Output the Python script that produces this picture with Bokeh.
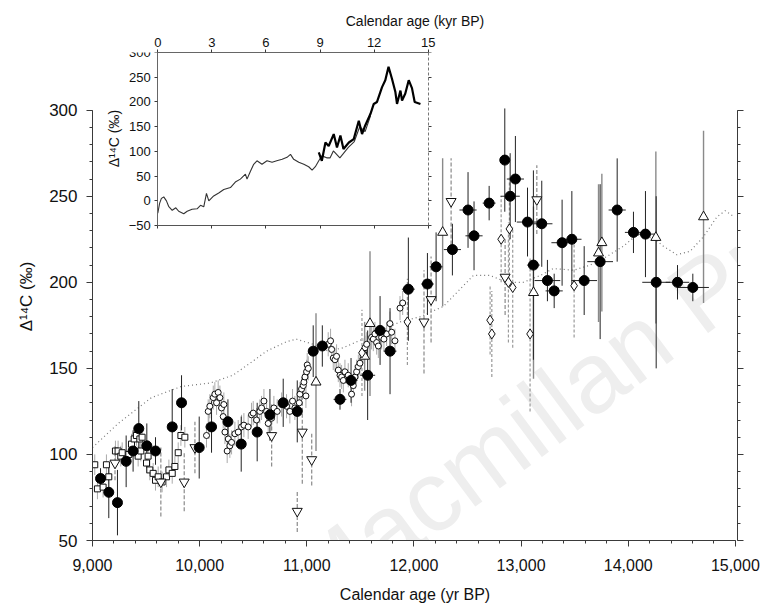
import math
from bokeh.plotting import figure
from bokeh.models import (Range1d, LinearAxis, FixedTicker, NumeralTickFormatter,
                          Label, CustomJSTickFormatter, Title)
from bokeh.embed import file_html
from bokeh.resources import INLINE

FONT = "Liberation Sans"

# ---------------- data ----------------
# dotted reference curve
ref_age = [9000, 9240, 9550, 9830, 10100, 10310, 10470, 10625, 10810, 10900,
           11060, 11200, 11340, 11560, 11870, 12060, 12275, 12555, 12710, 12870,
           13020, 13180, 13300, 13490, 13645, 13800, 13956, 14080, 14236, 14327,
           14454, 14578, 14703, 14828, 14906, 14990]
ref_d14c = [104, 118, 133, 139.5, 141.5, 146, 153, 160, 165.5, 167,
            164, 160, 162, 168, 177, 180, 186, 204, 204, 200,
            200, 204, 208, 207, 210, 215, 221, 227.5, 225.6, 221,
            216, 218, 226.5, 238, 241.6, 238]

# filled circles
fc_age = [9075, 9152, 9233, 9314, 9379, 9432, 9507, 9588, 9744, 9831,
          9996, 10111, 10264, 10388, 10537, 10656, 10780, 10911, 11060, 11145,
          11310, 11413, 11568, 11684, 11777, 11948, 12126, 12207, 12359, 12505,
          12561, 12702, 12848, 12898, 12947, 13060, 13115, 13193, 13246, 13309,
          13383, 13474, 13589, 13738, 13897, 14049, 14161, 14261, 14460, 14603]
fc_d14c = [86, 78, 72, 96, 102, 115, 105, 102, 116, 130,
           104, 116, 119, 106, 113, 123, 130, 125, 160, 163,
           132, 143, 146, 172, 160, 196, 199, 209, 219, 242,
           227, 246, 271, 250, 260, 235, 210, 234, 201, 195,
           223, 225, 201, 212, 242, 229, 228, 200, 200, 197]
fc_err = [6, 15, 19, 15, 12, 16, 13, 8, 22, 16,
          18, 15, 13, 16, 17, 15, 14, 18, 15, 12,
          6, 13, 26, 20, 25, 30, 18, 20, 15, 22,
          20, 10, 30, 25, 25, 20, 55, 25, 12, 10,
          25, 28, 20, 45, 30, 12, 25, 50, 10, 8]
fc_xerr = [20, 15, 15, 20, 20, 20, 20, 25, 20, 25,
           25, 30, 30, 35, 35, 35, 35, 40, 30, 40,
           60, 60, 70, 60, 60, 60, 60, 60, 80, 80,
           80, 60, 40, 90, 80, 100, 60, 100, 120, 80,
           100, 90, 120, 120, 80, 80, 90, 130, 110, 150]

# open circles (tree-ring like series)
oc_age = [10064, 10080, 10086, 10095, 10127, 10142, 10158, 10173, 10189, 10204,
          10220, 10226, 10236, 10257, 10267, 10282, 10298, 10329, 10360, 10391,
          10413, 10453, 10484, 10500, 10531, 10562, 10578, 10600, 10625, 10640,
          10671, 10693, 10724, 10765, 10811, 10842, 10867, 10889, 10930, 10936,
          10951, 10967, 10973, 10983, 10992, 10998, 11004, 11014, 11200, 11222,
          11232, 11247, 11263, 11278, 11294, 11310, 11325, 11341, 11356, 11387,
          11418, 11434, 11450, 11465, 11481, 11496, 11534, 11543, 11559, 11605,
          11621, 11636, 11652, 11668, 11699, 11720, 11745, 11776, 11792, 11823,
          11870, 11895]
oc_d14c = [111, 125, 116, 128, 133, 135, 130, 136, 133, 127,
           122, 129, 113, 102, 109, 105, 107, 112, 113, 116,
           117, 116, 123, 124, 120, 125, 127, 131, 125, 118,
           121, 127, 125, 129, 128, 125, 131, 127, 130, 135,
           138, 140, 142, 145, 134, 148, 152, 150, 164, 166,
           161, 156, 155, 157, 149, 146, 145, 143, 148, 146,
           135, 140, 145, 148, 151, 153, 160, 162, 164, 168,
           167, 170, 165, 163, 168, 167, 170, 176, 171, 166,
           185, 188]

# open squares
sq_age = [9021, 9046, 9099, 9130, 9152, 9214, 9239, 9264, 9277, 9339,
          9364, 9389, 9410, 9426, 9442, 9451, 9463, 9504, 9519, 9535,
          9566, 9588, 9613, 9650, 9691, 9713, 9744, 9769, 9800, 9825, 9862]
sq_d14c = [94, 80, 81, 94, 87, 102, 102, 99, 101, 100,
           106, 109, 111, 99, 109, 102, 110, 95, 99, 91,
           89, 85, 87, 84, 87, 91, 89, 93, 101, 111, 110]

# open up-triangles
tu_age = [11086, 11540, 11590, 12268, 13116, 13723, 13754, 14258, 14703]
tu_d14c = [142, 157, 176, 229, 194, 217, 223, 226, 238]
tu_err = [40, 20, 42, 43, 50, 40, 40, 50, 50]

# open down-triangles
td_age = [9210, 9638, 9856, 9956, 10672, 10911, 10958, 11046, 12094, 12160,
          12347, 12851, 13147]
td_d14c = [95, 84, 84, 104, 111, 67, 113, 97, 177, 190, 247, 203, 248]
td_err = [10, 20, 17, 15, 18, 12, 30, 15, 30, 25, 25, 22, 20]

# open diamonds
dm_age = [11515, 11939, 12711, 12727, 12814, 12882, 12891, 12922, 13084, 13495]
dm_d14c = [159, 177, 178, 170, 225, 200, 231, 197, 170, 198]
dm_err = [25, 25, 20, 25, 25, 35, 30, 35, 45, 30]

# inset curves (kyr BP, permil)
in_thin_age = [0, 0.1, 0.2, 0.33, 0.48, 0.6, 0.8, 1.0, 1.16, 1.44,
               1.63, 1.9, 2.18, 2.37, 2.55, 2.7, 2.83, 3.1, 3.38, 3.66,
               4.03, 4.3, 4.58, 4.86, 4.95, 5.14, 5.32, 5.5, 5.78, 6.06,
               6.34, 6.6, 6.9, 7.17, 7.36, 7.54, 7.82, 8.1, 8.37, 8.56,
               8.74, 8.93, 9.1, 9.37, 9.56, 9.74, 10.1, 10.57, 10.9, 11.2,
               11.5, 11.8]
in_thin_d14c = [-25, -5, 5, 8, 0, -11, -19, -14, -21, -26,
                -21, -17, -16, -9, -12, 15, 0, 10, 16, 23,
                27, 38, 44, 54, 44, 60, 74, 81, 74, 81,
                78, 81, 84, 88, 94, 84, 78, 74, 69, 62,
                69, 81, 91, 87, 87, 101, 87, 108, 120, 150,
                140, 172]
in_thick_age = [8.93, 9.1, 9.3, 9.48, 9.76, 9.94, 10.13, 10.3, 10.6, 10.87,
                11.15, 11.33, 11.5, 11.8, 11.98, 12.16, 12.44, 12.62, 12.8, 12.99,
                13.18, 13.27, 13.46, 13.55, 13.73, 13.92, 14.1, 14.25, 14.57]
in_thick_d14c = [98, 81, 118, 111, 135, 108, 132, 105, 118, 125,
                 162, 135, 152, 176, 196, 200, 230, 244, 271, 247,
                 220, 196, 223, 203, 217, 244, 228, 200, 196]

main_xticks = [9000, 10000, 11000, 12000, 13000, 14000, 15000]
main_yticks = [50, 100, 150, 200, 250, 300]
inset_xticks = [0, 3, 6, 9, 12, 15]
inset_yticks = [-50, 0, 50, 100, 150, 200, 250, 300]

# ---------------- figure ----------------
p = figure(width=760, height=606, output_backend="svg", toolbar_location=None,
           x_range=Range1d(9000, 15020), y_range=Range1d(50, 333.5),
           x_axis_type=None, y_axis_type=None,
           min_border_left=92, min_border_right=23, min_border_top=52,
           min_border_bottom=66)
p.outline_line_color = None
p.background_fill_color = "white"
p.border_fill_color = "white"
p.extra_x_ranges = {"ix": Range1d(-3.622, 32.158)}
p.extra_y_ranges = {"iy": Range1d(-686.7, 300)}

AX = "#3a3a3a"


def style_axis(ax, label_size="16px", tick_out=6, minor_out=3, standoff=9):
    ax.axis_line_color = AX
    ax.axis_line_width = 1
    ax.major_tick_line_color = AX
    ax.minor_tick_line_color = AX
    ax.major_tick_out = tick_out
    ax.major_tick_in = 0
    ax.minor_tick_out = minor_out
    ax.minor_tick_in = 0
    ax.major_label_text_font = FONT
    ax.major_label_text_font_size = label_size
    ax.major_label_text_color = "#111111"
    ax.major_label_standoff = standoff
    ax.axis_label_text_font = FONT
    ax.axis_label_text_font_style = "normal"
    ax.axis_label_text_color = "#111111"


blank = CustomJSTickFormatter(code="return ''")

# main axes
xax = LinearAxis(ticker=FixedTicker(ticks=main_xticks,
                                    minor_ticks=list(range(9000, 15001, 200))),
                 formatter=NumeralTickFormatter(format="0,0"),
                 bounds=(9000, 15000), axis_label="Calendar age (yr BP)")
style_axis(xax, "16px", standoff=12)
xax.axis_label_text_font_size = "16px"
xax.axis_label_standoff = 12
p.add_layout(xax, "below")

yax = LinearAxis(ticker=FixedTicker(ticks=main_yticks,
                                    minor_ticks=list(range(50, 301, 10))),
                 bounds=(50, 300), axis_label="Δ¹⁴C (‰)")
style_axis(yax, "17px", standoff=9)
yax.axis_label_text_font_size = "17px"
yax.axis_label_standoff = 10
p.add_layout(yax, "left")

rax = LinearAxis(ticker=FixedTicker(ticks=main_yticks,
                                    minor_ticks=list(range(50, 301, 10))),
                 bounds=(50, 300), formatter=blank)
style_axis(rax)
rax.major_label_text_font_size = "1px"
p.add_layout(rax, "right")

# inset axes
itop = LinearAxis(x_range_name="ix", y_range_name="iy",
                  ticker=FixedTicker(ticks=inset_xticks), bounds=(0, 15))
style_axis(itop, "13px", tick_out=3, standoff=3)
itop.axis_line_color = "#666666"
p.add_layout(itop, "above")

# inset x-axis title, centred over the inset
p.add_layout(Title(text="Calendar age (kyr BP)", align="center", offset=-122,
                   text_font=FONT, text_font_size="14px", text_font_style="normal",
                   text_color="#111111", standoff=12), "above")

ileft = LinearAxis(x_range_name="ix", y_range_name="iy", fixed_location=0,
                   ticker=FixedTicker(ticks=inset_yticks), bounds=(-50, 300))
style_axis(ileft, "13px", tick_out=3, standoff=4)
ileft.axis_line_color = "#666666"
p.add_layout(ileft, "left")

iright = LinearAxis(x_range_name="ix", y_range_name="iy", fixed_location=15,
                    ticker=FixedTicker(ticks=inset_yticks), bounds=(-50, 300),
                    formatter=blank)
style_axis(iright, "1px", tick_out=3)
iright.axis_line_color = "#777777"
iright.axis_line_dash = "3 2"
p.add_layout(iright, "right")

ibot = LinearAxis(x_range_name="ix", y_range_name="iy", fixed_location=-50,
                  ticker=FixedTicker(ticks=inset_xticks), bounds=(0, 15),
                  formatter=blank)
style_axis(ibot, "1px", tick_out=3)
ibot.axis_line_color = "#555555"
p.add_layout(ibot, "below")

# inset y-axis title
p.add_layout(Label(x=-2.45, y=126, x_range_name="ix", y_range_name="iy",
                   text="Δ¹⁴C (‰)", angle=math.pi / 2, text_align="center",
                   text_baseline="middle", text_font=FONT, text_font_size="14px",
                   text_color="#111111"))

# watermark
p.add_layout(Label(x=11223, y=-8, text="Macmillan Pu", angle=0.64,
                   text_font=FONT, text_font_size="100px", text_color="#eeeeee",
                   level="underlay"))

# reference dotted curve
p.line(ref_age, ref_d14c, line_color="#777777", line_width=1.2, line_dash="1 3")


def vsegs(x, y, err, color, width=1.0, dash="solid"):
    p.segment(x0=x, x1=x, y0=[a - e for a, e in zip(y, err)],
              y1=[a + e for a, e in zip(y, err)],
              line_color=color, line_width=width, line_dash=dash)


# error bars
vsegs(sq_age, sq_d14c, [6] * len(sq_age), "#aaaaaa")
vsegs(oc_age, oc_d14c, [7] * len(oc_age), "#aaaaaa")
vsegs(td_age, td_d14c, td_err, "#8a8a8a", 1.2, "4 2")
vsegs(tu_age, tu_d14c, tu_err, "#8a8a8a", 1.4)
vsegs(dm_age, dm_d14c, dm_err, "#9a9a9a", 1.2, "3 2")
vsegs(fc_age, fc_d14c, fc_err, "#222222", 1.0)
p.segment(x0=[a - e for a, e in zip(fc_age, fc_xerr)],
          x1=[a + e for a, e in zip(fc_age, fc_xerr)],
          y0=fc_d14c, y1=fc_d14c, line_color="#222222", line_width=1.0)

# markers
p.scatter(sq_age, sq_d14c, marker="square", size=6, fill_color="white",
          line_color="#111111", line_width=1)
p.scatter(oc_age, oc_d14c, marker="circle", size=6, fill_color="white",
          line_color="#111111", line_width=1)
p.scatter(td_age, td_d14c, marker="inverted_triangle", size=10, fill_color="white",
          line_color="#111111", line_width=1)
p.scatter(tu_age, tu_d14c, marker="triangle", size=10, fill_color="white",
          line_color="#111111", line_width=1)
p.scatter(dm_age, dm_d14c, marker="diamond", size=10, fill_color="white",
          line_color="#111111", line_width=1)
p.scatter(fc_age, fc_d14c, marker="circle", size=10, fill_color="black",
          line_color="black")

# inset curves
p.line(in_thin_age, in_thin_d14c, x_range_name="ix", y_range_name="iy",
       line_color="#333333", line_width=1.1)
p.line(in_thick_age, in_thick_d14c, x_range_name="ix", y_range_name="iy",
       line_color="black", line_width=2.2)

open("out.html", "w").write(file_html(p, INLINE))
